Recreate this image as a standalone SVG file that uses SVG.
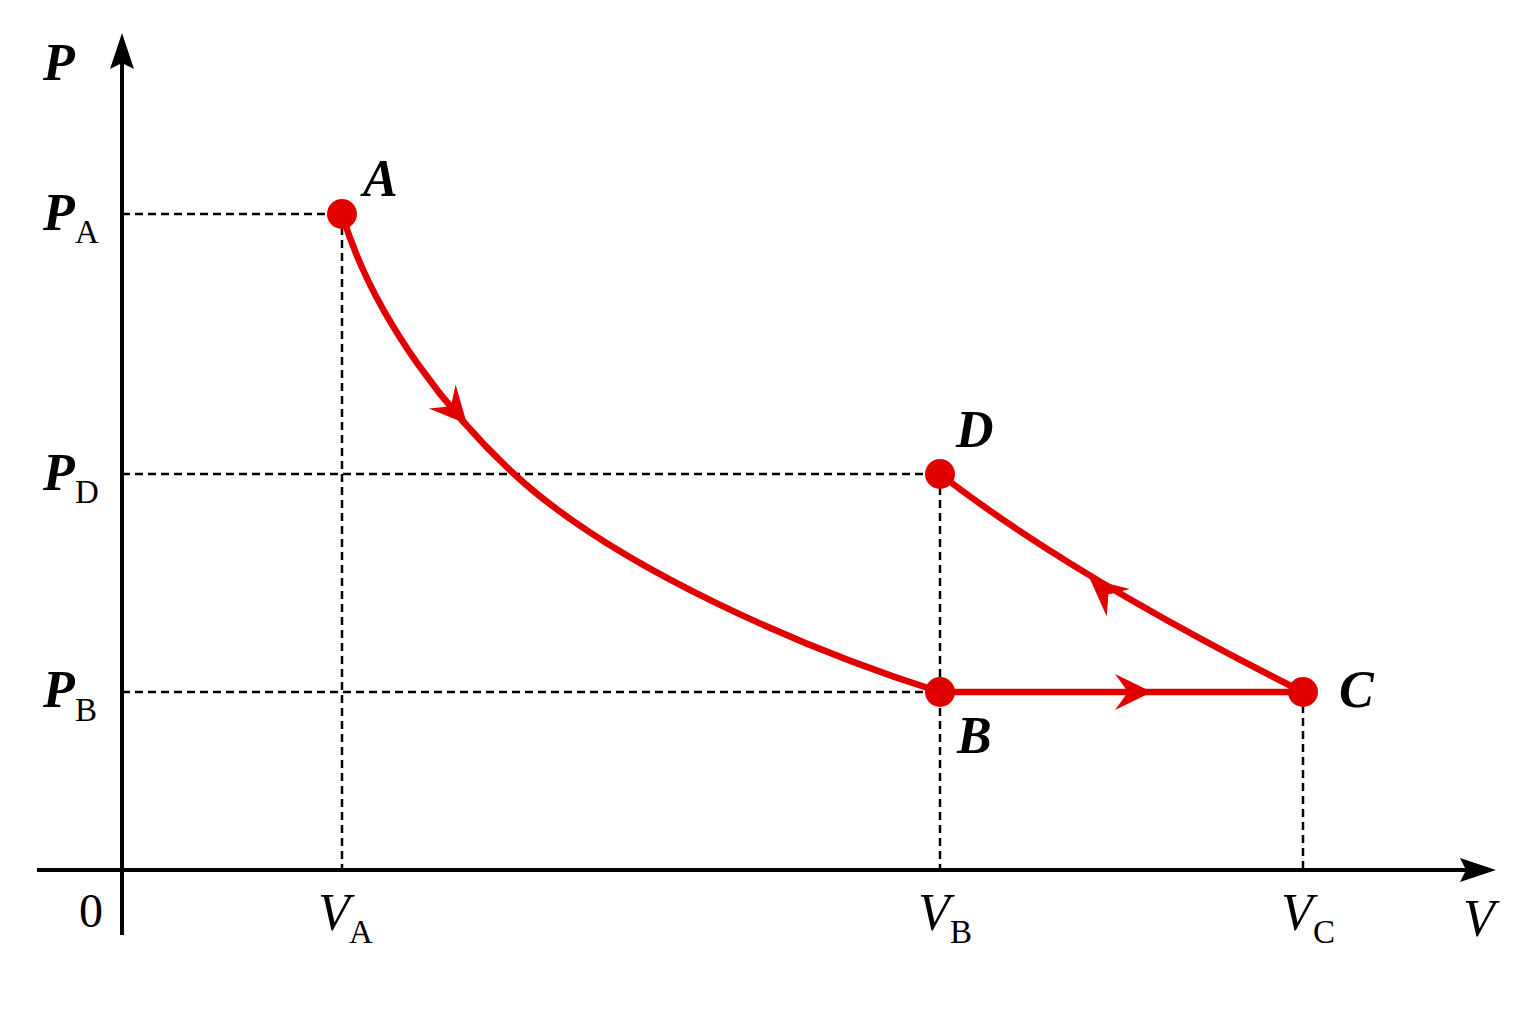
<svg xmlns="http://www.w3.org/2000/svg" width="1534" height="1025" viewBox="0 0 1534 1025">
<style>
.axis{stroke:#000;stroke-width:4;fill:none}
.dash{stroke:#000;stroke-width:2.5;stroke-dasharray:8 5;fill:none}
.curve{stroke:#e00000;stroke-width:6.5;fill:none;stroke-linecap:round}
.head{fill:#e00000}
.dot{fill:#e00000}
.lbl{font-family:"Liberation Serif","Times New Roman",serif;font-style:italic;font-weight:bold;font-size:52px;fill:#000}
.var{font-family:"Liberation Serif","Times New Roman",serif;font-style:italic;font-size:52px;fill:#000}
.sub{font-family:"Liberation Serif","Times New Roman",serif;font-size:33px;fill:#000}
.num{font-family:"Liberation Serif","Times New Roman",serif;font-size:48px;fill:#000}
</style>
<defs>
<polygon id="ah" points="0,0 -37,-18 -24,0 -37,18"/>
</defs>
<rect width="1534" height="1025" fill="#fff"/>
<g id="axes">
<line class="axis" x1="122" y1="935" x2="122" y2="60"/>
<polygon points="122,33 110,69 122,63 134,69" fill="#000"/>
<line class="axis" x1="37" y1="870" x2="1470" y2="870"/>
<polygon points="1496,870 1460,858 1466,870 1460,882" fill="#000"/>
<text class="lbl" x="43" y="80">P</text>
<text class="var" x="1463" y="936">V</text>
<text class="num" x="79" y="927">0</text>
</g>
<g id="guides">
<line class="dash" x1="122" y1="214" x2="342" y2="214"/>
<line class="dash" x1="122" y1="474" x2="940" y2="474"/>
<line class="dash" x1="122" y1="692" x2="940" y2="692"/>
<line class="dash" x1="342" y1="214" x2="342" y2="870"/>
<line class="dash" x1="940" y1="474" x2="940" y2="870"/>
<line class="dash" x1="1303" y1="692" x2="1303" y2="870"/>
</g>
<g id="ticks">
<text class="lbl" x="43" y="230">P</text><text class="sub" x="75" y="243">A</text>
<text class="lbl" x="43" y="490">P</text><text class="sub" x="75" y="503">D</text>
<text class="lbl" x="43" y="707">P</text><text class="sub" x="75" y="721">B</text>
<text class="var" x="318" y="930">V</text><text class="sub" x="349" y="943">A</text>
<text class="var" x="918" y="930">V</text><text class="sub" x="950" y="943">B</text>
<text class="var" x="1281" y="930">V</text><text class="sub" x="1313" y="943">C</text>
</g>
<g id="connectors">
<path class="curve" d="M342,214 C375,324 455,419 513,473 C615,568 807,650 940,692"/>
<use href="#ah" class="head" transform="translate(467,424) rotate(48)"/>
<line class="curve" x1="940" y1="692" x2="1303" y2="692"/>
<use href="#ah" class="head" transform="translate(1152,692)"/>
<path class="curve" d="M940,474 Q1070,575 1303,692"/>
<use href="#ah" class="head" transform="translate(1090,579) rotate(-140)"/>
</g>
<g id="node-A"><circle class="dot" cx="342" cy="214" r="15"/><text class="lbl" x="363" y="196">A</text></g>
<g id="node-B"><circle class="dot" cx="940" cy="692" r="15"/><text class="lbl" x="957" y="753">B</text></g>
<g id="node-C"><circle class="dot" cx="1303" cy="692" r="15"/><text class="lbl" x="1339" y="707">C</text></g>
<g id="node-D"><circle class="dot" cx="940" cy="474" r="15"/><text class="lbl" x="956" y="447">D</text></g>
</svg>
